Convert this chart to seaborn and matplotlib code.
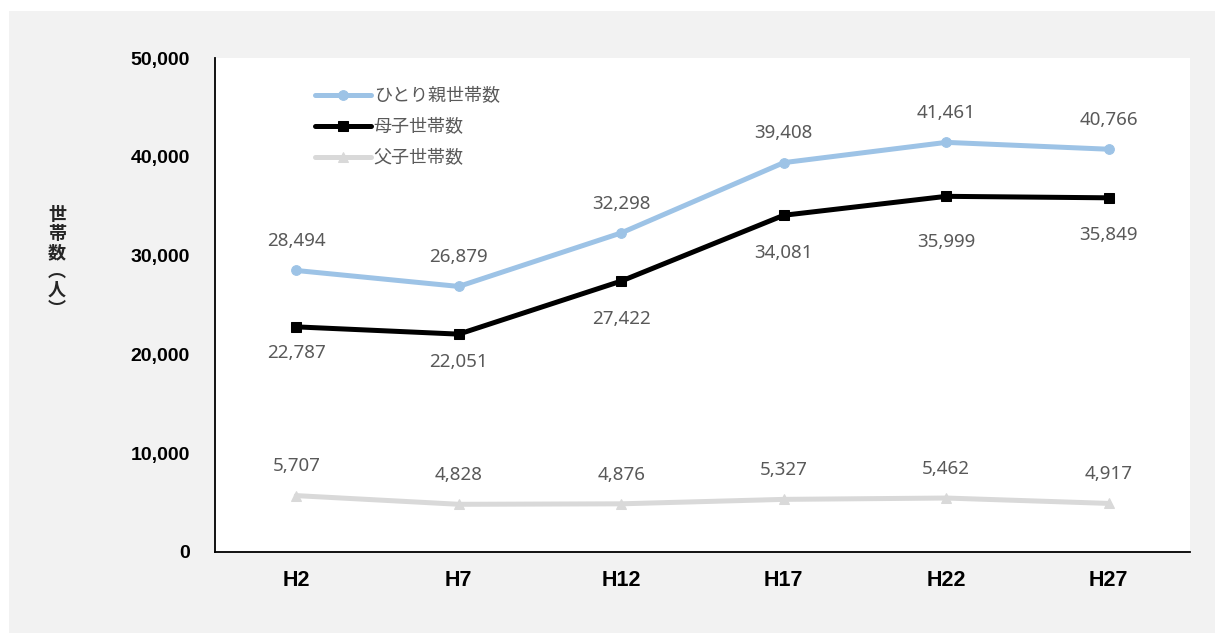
import numpy as np
import pandas as pd
import matplotlib.pyplot as plt
from matplotlib.patches import Rectangle
import seaborn as sns

# data
years = ['H2', 'H7', 'H12', 'H17', 'H22', 'H27']
single_parent = [28494, 26879, 32298, 39408, 41461, 40766]
mother_child = [22787, 22051, 27422, 34081, 35999, 35849]
father_child = [5707, 4828, 4876, 5327, 5462, 4917]
series_names = ['ひとり親世帯数', '母子世帯数', '父子世帯数']
y_ticks = [0, 10000, 20000, 30000, 40000, 50000]

# label offsets (points), mother/child labels sit below at varying distances
mother_label_offsets = [-19, -20, -27, -27, -33, -27]

sns.set_style('white')
plt.rcParams['font.family'] = ['Noto Sans CJK JP', 'DejaVu Sans']

fig = plt.figure(figsize=(12.15, 6.33), dpi=100)
fig.patch.set_facecolor('white')
# grey panel behind the chart
fig.patches.append(Rectangle((9 / 1215, 0), 1 - 9 / 1215, 1 - 11 / 633,
                             transform=fig.transFigure, facecolor='#f2f2f2',
                             edgecolor='none', zorder=-10))

ax = fig.add_axes([215 / 1215, 1 - 552 / 633, 975 / 1215, (552 - 58) / 633])
ax.set_facecolor('white')

df = pd.DataFrame({'x': np.arange(len(years)),
                   series_names[0]: single_parent,
                   series_names[1]: mother_child,
                   series_names[2]: father_child})

styles = {
    series_names[0]: dict(color='#9dc3e6', marker='o', markersize=7),
    series_names[1]: dict(color='#000000', marker='s', markersize=7.5),
    series_names[2]: dict(color='#d9d9d9', marker='^', markersize=7),
}

for name in series_names:
    st = styles[name]
    sns.lineplot(data=df, x='x', y=name, ax=ax, label=name, color=st['color'],
                 marker=st['marker'], markersize=st['markersize'],
                 markeredgecolor=st['color'], linewidth=3.6)

label_color = '#595959'
label_font = ['Noto Sans', 'DejaVu Sans']
for i, v in enumerate(single_parent):
    ax.annotate(f'{v:,}', (i, v), xytext=(0, 21), textcoords='offset points',
                ha='center', va='center', fontsize=13.5, color=label_color,
                family=label_font)
for i, v in enumerate(father_child):
    ax.annotate(f'{v:,}', (i, v), xytext=(0, 21), textcoords='offset points',
                ha='center', va='center', fontsize=13.5, color=label_color,
                family=label_font)
for i, v in enumerate(mother_child):
    ax.annotate(f'{v:,}', (i, v), xytext=(0, mother_label_offsets[i]),
                textcoords='offset points', ha='center', va='center',
                fontsize=13.5, color=label_color, family=label_font)

ax.set_xlim(-0.5, len(years) - 0.5)
ax.set_ylim(0, 50000)
ax.set_xticks(np.arange(len(years)))
ax.set_xticklabels(years, fontsize=15.5, fontweight='bold',
                   family=['Liberation Sans', 'DejaVu Sans'])
ax.set_yticks(y_ticks)
ax.set_yticklabels([f'{t:,}' for t in y_ticks], fontsize=14, fontweight='bold',
                   family=['Liberation Sans', 'DejaVu Sans'])
ax.tick_params(axis='both', length=0, colors='#000000')
ax.tick_params(axis='y', pad=18)
ax.tick_params(axis='x', pad=13)
ax.set_xlabel('')
ax.set_ylabel('')

for side in ['top', 'right']:
    ax.spines[side].set_visible(False)
for side in ['left', 'bottom']:
    ax.spines[side].set_color('#000000')
    ax.spines[side].set_linewidth(1.3)

# vertical y-axis title
fig.text(57 / 1215, 1 - 262 / 633, '世\n帯\n数\n︵\n人\n︶', ha='center', va='center',
         fontsize=13, fontweight='bold', linespacing=1.0)

leg = ax.legend(loc='upper left', bbox_to_anchor=(0.086, 0.973), frameon=False,
                handlelength=3.1, handletextpad=0.15, labelspacing=0.7,
                fontsize=13)
for t in leg.get_texts():
    t.set_color(label_color)

fig.savefig('out.png', dpi=100, facecolor=fig.get_facecolor())
